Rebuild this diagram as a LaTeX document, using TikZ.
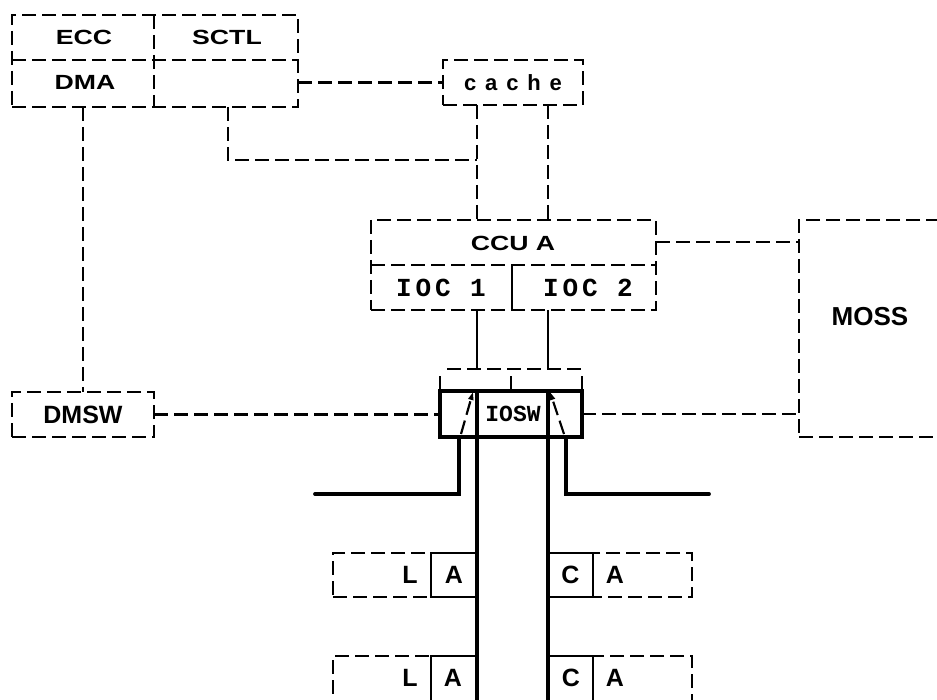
\documentclass[tikz,border=0pt]{standalone}
\usepackage{fontspec}
\setmainfont{Liberation Sans}
\newfontfamily\fwide[FakeStretch=1.3]{Liberation Sans}
\newfontfamily\fmono[LetterSpace=15]{Liberation Mono}
\newfontfamily\fmonob{Liberation Mono}
\newfontfamily\fspaced[LetterSpace=40]{Liberation Sans}
\usetikzlibrary{arrows.meta,calc}
\begin{document}
\begin{tikzpicture}[x=1pt,y=-1pt,
  dl/.style={line width=2.3pt, dash pattern=on 14pt off 6pt},
  sl/.style={line width=2pt},
  tk/.style={line width=3.8pt},
  dbox/.style={draw, dl, inner sep=0pt, outer sep=0pt, anchor=north west},
  sbox/.style={draw, sl, inner sep=0pt, outer sep=0pt, anchor=north west},
  tbox/.style={draw, tk, inner sep=0pt, outer sep=0pt, anchor=north west},
  tA/.style={font=\fwide\bfseries\fontsize{20.5}{22}\selectfont, inner sep=0pt},
  tB/.style={font=\bfseries\fontsize{25}{27}\selectfont, inner sep=0pt},
  tM/.style={font=\fmono\bfseries\fontsize{26}{28}\selectfont, inner sep=0pt},
  tN/.style={font=\fmonob\bfseries\fontsize{23}{25}\selectfont, inner sep=0pt},
  tC/.style={font=\fspaced\bfseries\fontsize{22}{24}\selectfont, inner sep=0pt},
  slant/.style={line width=2.2pt, dash pattern=on 14pt off 6pt, -{Triangle[length=8pt,width=5pt]}}
]
\useasboundingbox (0,0) rectangle (937,700);
\clip (0,0) rectangle (937,700);

% ---------- coordinates ----------
\coordinate (tlmid) at (154,60);
\coordinate (xc) at (228,160);
\coordinate (xa) at (477,160);
\coordinate (xb) at (548,160);
\coordinate (ym) at (700,242);
\coordinate (ydiv) at (512,265);
\coordinate (busl) at (447,369);
\coordinate (busr) at (585,369);
\coordinate (bot) at (0,706);
\coordinate (ol) at (459,494);
\coordinate (olend) at (315,494);
\coordinate (or) at (566,494);
\coordinate (orend) at (709,494);
\coordinate (sa1) at (461,434);
\coordinate (sa2) at (473,392);
\coordinate (sb1) at (564,434);
\coordinate (sb2) at (550,392);

% ---------- top-left block ----------
\node[dbox, minimum width=286pt, minimum height=92pt] (tl) at (12,15) {};
\draw[dl] (tl.north -| tlmid) -- (tl.south -| tlmid);
\draw[dl] (tl.west |- tlmid) -- (tl.east |- tlmid);
\node[tA] (ecc) at (84,37) {ECC};
\node[tA] (sctl) at (227,37) {SCTL};
\node[tA] (dma) at (85,82) {DMA};

% ---------- cache ----------
\node[dbox, tC, minimum width=140pt, minimum height=45pt] (cache) at (443,60) {cache};

% ---------- CCU ----------
\node[dbox, minimum width=285pt, minimum height=90pt] (ccu) at (371,220) {};
\draw[dl] (ccu.west |- ydiv) -- (ccu.east |- ydiv);
\draw[sl] (ydiv) -- (ccu.south -| ydiv);
\node[tA] (ccua) at (513,243) {CCU A};
\node[tM] (ioc1) at (441,288) {IOC 1};
\node[tM] (ioc2) at (588,288) {IOC 2};

% ---------- MOSS ----------
\node[dbox, minimum width=142pt, minimum height=217pt] (moss) at (799,220) {};
\node[tB, font=\bfseries\fontsize{26}{28}\selectfont] (mossl) at (870,317) {MOSS};

% ---------- DMSW ----------
\node[dbox, tB, minimum width=142pt, minimum height=45pt] (dmsw) at (12,392) {DMSW};

% ---------- IOSW ----------
\node[tbox, minimum width=142pt, minimum height=46pt] (iosw) at (440,391) {};
\node[tN] (ioswl) at (513,414) {IOSW};

% ---------- dashed connectors ----------
\draw[dl] (tl.east |- cache.west) -- (cache.west);
\draw[dl] (tl.south -| xc) -- (xc) -- (xa);
\draw[dl] (cache.south -| xa) -- (ccu.north -| xa);
\draw[dl] (cache.south -| xb) -- (ccu.north -| xb);
\draw[dl] (ccu.east |- ym) -- (moss.west |- ym);
\draw[dl] (tl.south -| dmsw.north) -- (dmsw.north);
\draw[dl] (dmsw.east) -- (dmsw.east -| iosw.west);
\draw[dl] (iosw.east) -- (iosw.east -| moss.west);

% ---------- CCU to IOSW ----------
\draw[sl] (ccu.south -| xa) -- (busl -| xa);
\draw[sl] (ccu.south -| xb) -- (busl -| xb);
\draw[dl] (busl) -- (busr);
\draw[sl] (iosw.north west) -- ++(0,-15);
\draw[sl] (iosw.north) -- ++(0,-15);
\draw[sl] (iosw.north east) -- ++(0,-15);

% ---------- switch arrows ----------
\draw[slant] (sa1) -- (sa2);
\draw[slant] (sb1) -- (sb2);

% ---------- channels ----------
\draw[tk] (iosw.north -| xa) -- (bot -| xa);
\draw[tk] (iosw.north -| xb) -- (bot -| xb);
\draw[tk, line cap=round] (iosw.south -| ol) -- (ol) -- (olend);
\draw[tk, line cap=round] (iosw.south -| or) -- (or) -- (orend);

% ---------- line adapters (row 1) ----------
\node[dbox, minimum width=144pt, minimum height=44pt] (la1) at (333,553) {};
\node[sbox, tB, minimum width=46pt, minimum height=44pt] (a1) at (431,553) {A};
\node[tB] (l1) at (410,575) {L};
\node[dbox, minimum width=144pt, minimum height=44pt] (ca1) at (548,553) {};
\node[sbox, tB, minimum width=45pt, minimum height=44pt] (c1) at (548,553) {C};
\node[tB] (ca1a) at (615,575) {A};

% ---------- line adapters (row 2) ----------
\node[dbox, minimum width=144pt, minimum height=48pt] (la2) at (333,656) {};
\node[sbox, minimum width=46pt, minimum height=48pt] (a2) at (431,656) {};
\node[tB] (a2l) at (453,678) {A};
\node[tB] (l2) at (410,678) {L};
\node[dbox, minimum width=144pt, minimum height=48pt] (ca2) at (548,656) {};
\node[sbox, minimum width=45pt, minimum height=48pt] (c2) at (548,656) {};
\node[tB] (c2l) at (571,678) {C};
\node[tB] (ca2a) at (615,678) {A};
\end{tikzpicture}
\end{document}
